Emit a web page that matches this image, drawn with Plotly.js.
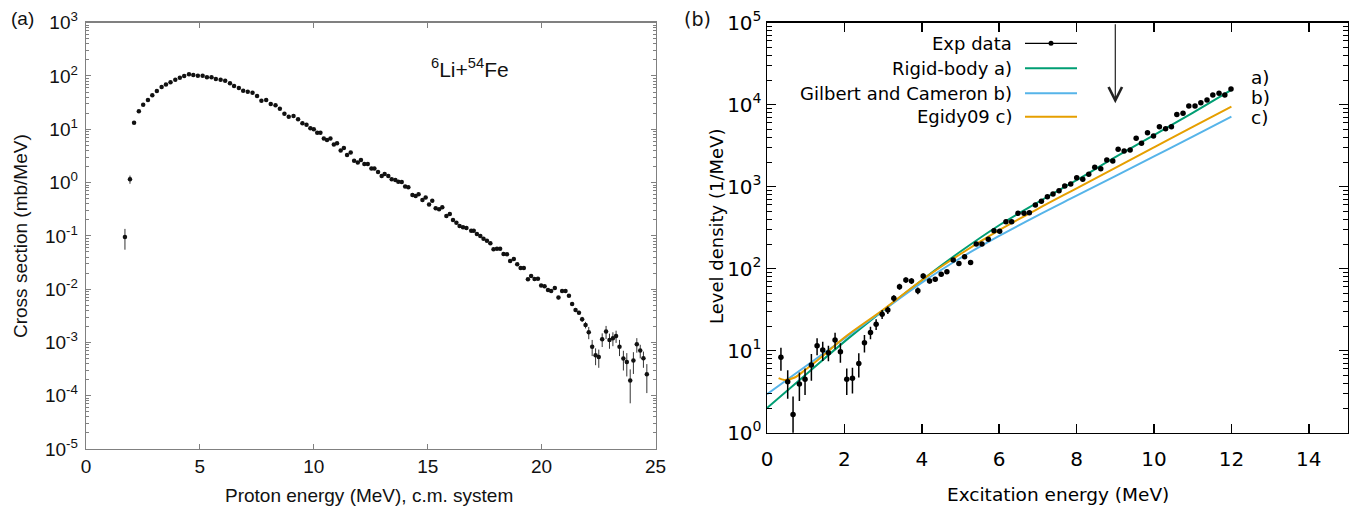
<!DOCTYPE html>
<html><head><meta charset="utf-8">
<script src="https://cdn.plot.ly/plotly-3.0.1.min.js"></script>
<style>html,body{margin:0;padding:0;background:#fff;} #chart{width:1365px;height:508px;}</style>
</head><body><div id="chart"></div>
<script>
// ---------- Panel (a): 6Li+54Fe proton spectrum ----------
const csEnergy = [1.71,1.93,2.11,2.32,2.51,2.72,2.91,3.11,3.32,3.51,3.71,3.92,4.12,4.31,4.52,4.71,4.91,5.12,5.31,5.51,5.70,5.91,6.11,6.32,6.50,6.71,6.90,7.10,7.31,7.51,7.70,7.91,8.11,8.32,8.51,8.71,8.90,9.11,9.31,9.50,9.68,9.85,10.00,10.15,10.29,10.44,10.58,10.73,10.88,11.02,11.18,11.32,11.46,11.62,11.77,11.93,12.07,12.22,12.37,12.53,12.66,12.82,12.98,13.11,13.27,13.42,13.58,13.71,13.86,14.01,14.15,14.33,14.47,14.60,14.77,14.91,15.06,15.20,15.35,15.50,15.64,15.82,15.97,16.11,16.26,16.40,16.55,16.70,16.91,17.02,17.16,17.31,17.45,17.60,17.75,17.89,18.04,18.18,18.33,18.48,18.62,18.78,18.93,19.08,19.22,19.40,19.54,19.69,19.84,19.98,20.13,20.28,20.42,20.58,20.74,20.90,21.05,21.20,21.34,21.49,21.64,21.78,21.93,22.07,22.22,22.37,22.51,22.66,22.83,22.98,23.13,23.27,23.42,23.59,23.74,23.89,24.03,24.18,24.33,24.47,24.62];
const csValue = [0.095,1.15,13.3,21.7,29,35.5,43.5,52,62,69,76,85,93,100,108,104,101,101,94.6,94.6,88,85,81.6,73,65,59.5,53,50.8,48.6,42.2,34.4,35.5,29.8,28.2,24.3,19.6,17.2,17.8,15.4,13.0,12.2,10.4,10.0,8.65,8.65,6.68,6.3,6.68,5.16,5.46,3.98,4.47,3.3,3.65,2.58,2.37,2.66,2.23,2.23,1.83,1.83,1.58,1.33,1.45,1.33,1.15,1.12,1.04,1.03,0.84,0.82,0.586,0.561,0.603,0.472,0.522,0.386,0.458,0.329,0.315,0.344,0.236,0.258,0.199,0.177,0.153,0.145,0.14,0.125,0.125,0.108,0.0995,0.0887,0.0813,0.0724,0.0559,0.0575,0.0575,0.0457,0.045,0.0338,0.0368,0.0292,0.0249,0.0249,0.0153,0.0177,0.0155,0.0157,0.01164,0.0113,0.00966,0.00925,0.0105,0.00693,0.00925,0.00925,0.00755,0.00527,0.00407,0.00362,0.00272,0.00213,0.00155,0.000834,0.000574,0.000534,0.00115,0.0016,0.00111,0.0012,0.00132,0.000834,0.000497,0.00043,0.000192,0.000456,0.000922,0.000702,0.000504,0.000252];
const csError = [0.04,0.2,0,0,0,0,0,0,0,0,0,0,0,0,0,0,0,0,0,0,0,0,0,0,0,0,0,0,0,0,0,0,0,0,0,0,0,0,0,0,0,0,0,0,0,0,0,0,0,0,0,0,0,0,0,0,0,0,0,0,0,0,0,0,0,0,0,0,0,0,0,0,0,0,0,0,0,0,0,0,0,0,0,0,0,0,0,0,0,0,0,0,0,0,0,0,0,0,0,0,0,0,0,0,0,0.0009,0.001,0.0009,0.0009,0.0007,0.0007,0.0006,0.0006,0.0007,0.0005,0.0006,0.0006,0.0005,0.0004,0.0003,0.0003,0.0003,0.0003,0.0004,0.00028,0.0002,0.0002,0.00033,0.00044,0.00035,0.00035,0.00034,0.00028,0.0002,0.0002,0.00012,0.0002,0.00028,0.0002,0.00017,0.00014];
const csYTickVals = [1e-5,1e-4,1e-3,1e-2,1e-1,1e0,1e1,1e2,1e3];
const csYTickText = ['10<sup>-5</sup>','10<sup>-4</sup>','10<sup>-3</sup>','10<sup>-2</sup>','10<sup>-1</sup>','10<sup>0</sup>','10<sup>1</sup>','10<sup>2</sup>','10<sup>3</sup>'];
const csXTickVals = [0,5,10,15,20,25];

// ---------- Panel (b): level density ----------
const ldEnergy = [0.36,0.535,0.673,0.837,0.983,1.147,1.294,1.44,1.587,1.759,1.897,2.061,2.208,2.372,2.518,2.674,2.82,2.975,3.122,3.277,3.424,3.588,3.734,3.898,4.036,4.2,4.347,4.502,4.648,4.812,4.959,5.106,5.261,5.407,5.554,5.718,5.865,6.011,6.175,6.322,6.486,6.641,6.779,6.934,7.09,7.245,7.391,7.546,7.693,7.848,8.003,8.159,8.314,8.469,8.624,8.78,8.935,9.073,9.228,9.383,9.539,9.677,9.832,9.987,10.14,10.3,10.45,10.59,10.75,10.9,11.06,11.21,11.37,11.52,11.68,11.83,11.99];
const ldValue = [8.3,4.19,1.67,3.93,4.48,6.69,11.5,10.2,9.46,13.5,9.73,4.48,4.6,7.0,12.5,16.7,21,27.8,31.3,43.5,60.4,72.8,70.8,53.9,81.5,70.8,74.1,85.3,92,128,116,140,119,200,200,228,291,286,374,374,473,473,482,598,663,755,815,894,1019,1078,1289,1230,1416,1723,1660,2118,2058,2856,2725,2800,3890,3379,4560,4152,5395,5103,5395,7621,7840,9630,9630,10590,11410,13130,13750,13130,15530];
const ldError = [2.6,1.6,1.1,1.5,1.6,2.4,2.7,2.7,2.0,3.1,2.6,1.6,1.6,2.3,3.0,2.9,3.1,3.5,3.2,4,5,5.5,5.5,5,6,5,5,5,5,6,6,7,7,8,8,9,10,10,12,12,14,14,14,16,17,18,19,20,22,23,25,25,27,30,30,34,34,40,40,40,48,45,52,50,60,58,60,70,72,80,80,85,90,95,100,95,105];
const rigidEnergy = [0,1,2,3,4,5,6,7,8,9,10,11,12];
const rigidValue = [2.0,5.1,12.9,30.9,72.4,162,339,646,1202,2291,4266,7943,15136];
const gcEnergy = [0,1,2,3,4,5,6,7,8,9,10,11,12];
const gcValue = [2.95,6.46,14.1,30.9,67.6,135,251,447,776,1349,2344,4074,7145];
const egidyEnergy = [0.3,0.45,0.7,1,1.5,2,3,4,5,6,7,8,9,10,11,12];
const egidyValue = [4.62,4.40,4.68,5.89,9.12,14.5,31.6,72.4,151,295,537,955,1698,3020,5370,9462];
const ldYTickVals = [1e0,1e1,1e2,1e3,1e4,1e5];
const ldYTickText = ['10<sup>0</sup>','10<sup>1</sup>','10<sup>2</sup>','10<sup>3</sup>','10<sup>4</sup>','10<sup>5</sup>'];
const ldXTickVals = [0,2,4,6,8,10,12,14];
const arrowEnergy = 9;
const arrowTip = 1.04e4;
const legendLabels = ['Exp data','Rigid-body a)','Gilbert and Cameron b)','Egidy09 c)'];
const legendColors = ['#000000','#009e73','#56b4e9','#e69f00'];
const curveTags = ['a)','b)','c)'];

// ---------- layout helpers ----------
const W = 1365, H = 508;
const px = x => x / W;
const py = y => 1 - y / H;
function minorLog(lo, hi) {
  const v = [];
  for (let d = lo; d < hi; d++) for (let m = 2; m <= 9; m++) v.push(m * Math.pow(10, d));
  return v;
}
const fontA = 'Liberation Sans, Arial, sans-serif';
const fontB = 'DejaVu Sans, Verdana, sans-serif';
const grayA = '#808080';

const traces = [
  {x: csEnergy, y: csValue, xaxis: 'x', yaxis: 'y', type: 'scatter', mode: 'markers',
   marker: {color: '#111', size: 4.5},
   error_y: {type: 'data', array: csError, visible: true, color: '#333', thickness: 1, width: 0},
   showlegend: false},
  {x: rigidEnergy, y: rigidValue, xaxis: 'x2', yaxis: 'y2', mode: 'lines', line: {color: legendColors[1], width: 2, shape: 'spline'}, showlegend: false},
  {x: gcEnergy, y: gcValue, xaxis: 'x2', yaxis: 'y2', mode: 'lines', line: {color: legendColors[2], width: 2, shape: 'spline'}, showlegend: false},
  {x: egidyEnergy, y: egidyValue, xaxis: 'x2', yaxis: 'y2', mode: 'lines', line: {color: legendColors[3], width: 2, shape: 'spline'}, showlegend: false},
  {x: ldEnergy, y: ldValue, xaxis: 'x2', yaxis: 'y2', type: 'scatter', mode: 'markers',
   marker: {color: '#000', size: 5.5},
   error_y: {type: 'data', array: ldError, visible: true, color: '#000', thickness: 1.5, width: 0},
   showlegend: false}
];

const annotations = [
  {text: '(a)', xref: 'paper', yref: 'paper', x: px(9), y: py(18), xanchor: 'left', yanchor: 'middle', showarrow: false, font: {family: fontA, size: 19, color: '#111'}},
  {text: '(b)', xref: 'paper', yref: 'paper', x: px(682), y: py(19), xanchor: 'left', yanchor: 'middle', showarrow: false, font: {family: fontB, size: 19, color: '#111'}},
  {text: '<sup>6</sup>Li+<sup>54</sup>Fe', xref: 'paper', yref: 'paper', x: px(470), y: py(68), xanchor: 'center', yanchor: 'middle', showarrow: false, font: {family: fontA, size: 21, color: '#111'}},
  {text: 'Proton energy (MeV), c.m. system', xref: 'paper', yref: 'paper', x: px(369), y: py(495), xanchor: 'center', yanchor: 'middle', showarrow: false, font: {family: fontA, size: 19, color: '#111'}},
  {text: 'Cross section (mb/MeV)', xref: 'paper', yref: 'paper', x: px(20), y: py(236), textangle: -90, xanchor: 'center', yanchor: 'middle', showarrow: false, font: {family: fontA, size: 19, color: '#111'}},
  {text: 'Excitation energy (MeV)', xref: 'paper', yref: 'paper', x: px(1058), y: py(494), xanchor: 'center', yanchor: 'middle', showarrow: false, font: {family: fontB, size: 18.5, color: '#000'}},
  {text: 'Level density (1/MeV)', xref: 'paper', yref: 'paper', x: px(716), y: py(227), textangle: -90, xanchor: 'center', yanchor: 'middle', showarrow: false, font: {family: fontB, size: 18, color: '#000'}},
  {text: '', xref: 'x2', yref: 'y2', x: arrowEnergy, y: Math.log10(arrowTip), axref: 'x2', ayref: 'y2', ax: arrowEnergy, ay: 5,
   showarrow: true, arrowhead: 5, arrowsize: 2.2, arrowwidth: 1.2, arrowcolor: '#222'}
];
const legendRowsY = [43.3, 68.3, 93.3, 116.7];
legendLabels.forEach((t, i) => {
  annotations.push({text: t, xref: 'paper', yref: 'paper', x: px(1014), y: py(legendRowsY[i]), xanchor: 'right', yanchor: 'middle', showarrow: false, font: {family: fontB, size: 18, color: '#000'}});
});
const tagY = [78, 97, 117];
curveTags.forEach((t, i) => {
  annotations.push({text: t, xref: 'paper', yref: 'paper', x: px(1249), y: py(tagY[i]), xanchor: 'left', yanchor: 'middle', showarrow: false, font: {family: fontB, size: 18.5, color: '#000'}});
});

const shapes = [];
legendColors.forEach((c, i) => {
  shapes.push({type: 'line', xref: 'paper', yref: 'paper', x0: px(1025), x1: px(1077), y0: py(legendRowsY[i]), y1: py(legendRowsY[i]), line: {color: c, width: i === 0 ? 1.2 : 2}});
});
shapes.push({type: 'circle', xref: 'paper', yref: 'paper', x0: px(1048.5), x1: px(1053.5), y0: py(legendRowsY[0] - 2.5), y1: py(legendRowsY[0] + 2.5), fillcolor: '#000', line: {width: 0}});

const layout = {
  width: W, height: H,
  margin: {l: 0, r: 0, t: 0, b: 0},
  paper_bgcolor: '#fff', plot_bgcolor: '#fff',
  showlegend: false,
  xaxis: {domain: [px(86), px(655.5)], anchor: 'y', range: [0, 25], tickmode: 'array', tickvals: csXTickVals,
    ticks: 'inside', ticklen: 5, tickwidth: 1, tickcolor: grayA, showline: true, linecolor: grayA, linewidth: 1.3, mirror: 'allticks',
    showgrid: false, zeroline: false, tickfont: {family: fontA, size: 19, color: '#111'}},
  yaxis: {domain: [py(449), py(22.7)], anchor: 'x', type: 'log', range: [-5, 3], tickmode: 'array', tickvals: csYTickVals, ticktext: csYTickText,
    ticks: 'inside', ticklen: 5, tickwidth: 1, tickcolor: grayA, showline: true, linecolor: grayA, linewidth: 1.3, mirror: 'allticks',
    ticklabelstandoff: 3,
    minor: {tickvals: minorLog(-5, 3), ticks: 'inside', ticklen: 3, tickcolor: grayA, tickwidth: 1, showgrid: false},
    showgrid: false, zeroline: false, tickfont: {family: fontA, size: 19, color: '#111'}},
  xaxis2: {domain: [px(767), px(1347.5)], anchor: 'y2', range: [0, 15], tickmode: 'array', tickvals: ldXTickVals,
    ticks: 'inside', ticklen: 9, tickwidth: 1.5, tickcolor: '#000', showline: true, linecolor: '#000', linewidth: 1.5, mirror: 'allticks',
    ticklabelstandoff: 8,
    showgrid: false, zeroline: false, tickfont: {family: fontB, size: 20, color: '#000'}},
  yaxis2: {domain: [py(432.7), py(22.7)], anchor: 'x2', type: 'log', range: [0, 5], tickmode: 'array', tickvals: ldYTickVals, ticktext: ldYTickText,
    ticks: 'inside', ticklen: 9, tickwidth: 1.5, tickcolor: '#000', showline: true, linecolor: '#000', linewidth: 1.5, mirror: 'allticks',
    minor: {tickvals: minorLog(0, 5), ticks: 'inside', ticklen: 5, tickcolor: '#000', tickwidth: 1, showgrid: false},
    showgrid: false, zeroline: false, tickfont: {family: fontB, size: 20, color: '#000'}},
  annotations: annotations,
  shapes: shapes
};

Plotly.newPlot('chart', traces, layout, {staticPlot: true, displayModeBar: false});
</script>
</body></html>
